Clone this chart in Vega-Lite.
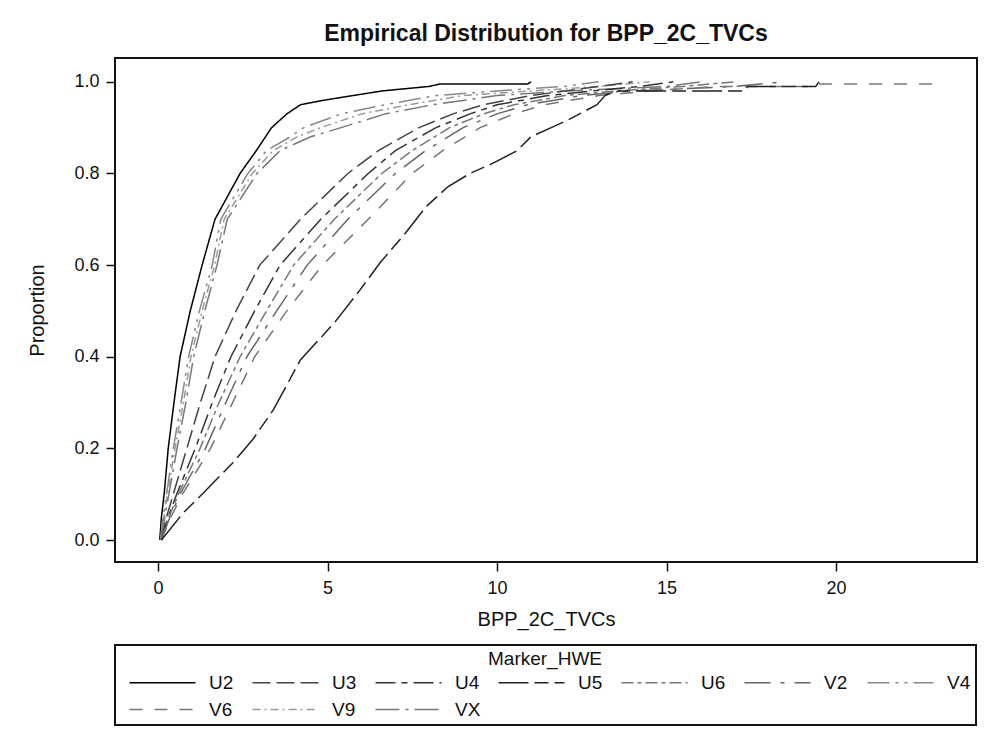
{
  "$schema": "https://vega.github.io/schema/vega-lite/v6.json",
  "autosize": {"type": "none"},
  "width": 862,
  "height": 504,
  "padding": {"left": 115, "top": 58, "right": 7, "bottom": 176},
  "background": "white",
  "title": {"text": "Empirical Distribution for BPP_2C_TVCs", "fontSize": 23, "fontWeight": "bold", "color": "#111", "offset": 12, "anchor": "middle"},
  "data": {"values": [
    {"m":"U2","x":0.05,"y":0},{"m":"U2","x":0.1,"y":0.05},{"m":"U2","x":0.18,"y":0.1},{"m":"U2","x":0.3,"y":0.2},{"m":"U2","x":0.47,"y":0.3},{"m":"U2","x":0.65,"y":0.4},{"m":"U2","x":0.95,"y":0.5},{"m":"U2","x":1.3,"y":0.6},{"m":"U2","x":1.68,"y":0.7},{"m":"U2","x":2.42,"y":0.8},{"m":"U2","x":2.9,"y":0.85},{"m":"U2","x":3.35,"y":0.9},{"m":"U2","x":3.8,"y":0.93},{"m":"U2","x":4.2,"y":0.95},{"m":"U2","x":4.9,"y":0.96},{"m":"U2","x":5.75,"y":0.97},{"m":"U2","x":6.6,"y":0.98},{"m":"U2","x":8.0,"y":0.99},{"m":"U2","x":8.3,"y":0.995},{"m":"U2","x":10.9,"y":0.995},{"m":"U2","x":11.0,"y":1.0},
    {"m":"V4","x":0.07,"y":0},{"m":"V4","x":0.15,"y":0.05},{"m":"V4","x":0.25,"y":0.1},{"m":"V4","x":0.45,"y":0.2},{"m":"V4","x":0.68,"y":0.3},{"m":"V4","x":0.9,"y":0.4},{"m":"V4","x":1.22,"y":0.5},{"m":"V4","x":1.6,"y":0.6},{"m":"V4","x":1.85,"y":0.7},{"m":"V4","x":2.65,"y":0.8},{"m":"V4","x":3.2,"y":0.85},{"m":"V4","x":3.9,"y":0.88},{"m":"V4","x":4.3,"y":0.9},{"m":"V4","x":5.4,"y":0.93},{"m":"V4","x":6.7,"y":0.95},{"m":"V4","x":8.2,"y":0.97},{"m":"V4","x":10.0,"y":0.98},{"m":"V4","x":12.0,"y":0.99},{"m":"V4","x":13.0,"y":1.0},
    {"m":"V9","x":0.08,"y":0},{"m":"V9","x":0.17,"y":0.05},{"m":"V9","x":0.28,"y":0.1},{"m":"V9","x":0.5,"y":0.2},{"m":"V9","x":0.75,"y":0.3},{"m":"V9","x":0.97,"y":0.4},{"m":"V9","x":1.3,"y":0.5},{"m":"V9","x":1.67,"y":0.6},{"m":"V9","x":1.95,"y":0.7},{"m":"V9","x":2.78,"y":0.8},{"m":"V9","x":3.4,"y":0.85},{"m":"V9","x":4.1,"y":0.88},{"m":"V9","x":4.8,"y":0.9},{"m":"V9","x":6.0,"y":0.93},{"m":"V9","x":7.4,"y":0.95},{"m":"V9","x":9.0,"y":0.97},{"m":"V9","x":11.0,"y":0.98},{"m":"V9","x":13.0,"y":0.99},{"m":"V9","x":14.5,"y":1.0},
    {"m":"VX","x":0.08,"y":0},{"m":"VX","x":0.2,"y":0.05},{"m":"VX","x":0.32,"y":0.1},{"m":"VX","x":0.56,"y":0.2},{"m":"VX","x":0.82,"y":0.3},{"m":"VX","x":1.05,"y":0.4},{"m":"VX","x":1.38,"y":0.5},{"m":"VX","x":1.74,"y":0.6},{"m":"VX","x":2.04,"y":0.7},{"m":"VX","x":2.92,"y":0.8},{"m":"VX","x":3.6,"y":0.85},{"m":"VX","x":4.5,"y":0.88},{"m":"VX","x":5.4,"y":0.9},{"m":"VX","x":6.7,"y":0.93},{"m":"VX","x":8.1,"y":0.95},{"m":"VX","x":10.0,"y":0.97},{"m":"VX","x":12.0,"y":0.98},{"m":"VX","x":15.0,"y":0.99},{"m":"VX","x":16.0,"y":1.0},
    {"m":"U3","x":0.1,"y":0},{"m":"U3","x":0.25,"y":0.05},{"m":"U3","x":0.45,"y":0.1},{"m":"U3","x":0.85,"y":0.2},{"m":"U3","x":1.25,"y":0.3},{"m":"U3","x":1.68,"y":0.4},{"m":"U3","x":2.3,"y":0.5},{"m":"U3","x":3.0,"y":0.6},{"m":"U3","x":4.2,"y":0.7},{"m":"U3","x":5.6,"y":0.8},{"m":"U3","x":6.5,"y":0.85},{"m":"U3","x":7.7,"y":0.9},{"m":"U3","x":8.7,"y":0.93},{"m":"U3","x":9.6,"y":0.95},{"m":"U3","x":11.0,"y":0.97},{"m":"U3","x":12.0,"y":0.98},{"m":"U3","x":13.0,"y":0.99},{"m":"U3","x":14.0,"y":1.0},
    {"m":"U4","x":0.1,"y":0},{"m":"U4","x":0.3,"y":0.05},{"m":"U4","x":0.55,"y":0.1},{"m":"U4","x":1.1,"y":0.2},{"m":"U4","x":1.6,"y":0.3},{"m":"U4","x":2.15,"y":0.4},{"m":"U4","x":2.85,"y":0.5},{"m":"U4","x":3.6,"y":0.6},{"m":"U4","x":4.8,"y":0.7},{"m":"U4","x":6.2,"y":0.8},{"m":"U4","x":7.0,"y":0.85},{"m":"U4","x":8.2,"y":0.9},{"m":"U4","x":9.2,"y":0.93},{"m":"U4","x":10.0,"y":0.95},{"m":"U4","x":11.5,"y":0.97},{"m":"U4","x":12.8,"y":0.98},{"m":"U4","x":14.2,"y":0.99},{"m":"U4","x":15.2,"y":1.0},
    {"m":"U6","x":0.1,"y":0},{"m":"U6","x":0.32,"y":0.05},{"m":"U6","x":0.6,"y":0.1},{"m":"U6","x":1.24,"y":0.2},{"m":"U6","x":1.8,"y":0.3},{"m":"U6","x":2.42,"y":0.4},{"m":"U6","x":3.2,"y":0.5},{"m":"U6","x":4.0,"y":0.6},{"m":"U6","x":5.2,"y":0.7},{"m":"U6","x":6.6,"y":0.8},{"m":"U6","x":7.5,"y":0.85},{"m":"U6","x":8.6,"y":0.9},{"m":"U6","x":9.6,"y":0.93},{"m":"U6","x":10.5,"y":0.95},{"m":"U6","x":12.0,"y":0.97},{"m":"U6","x":13.5,"y":0.98},{"m":"U6","x":15.5,"y":0.99},{"m":"U6","x":17.0,"y":1.0},
    {"m":"V2","x":0.1,"y":0},{"m":"V2","x":0.35,"y":0.05},{"m":"V2","x":0.65,"y":0.1},{"m":"V2","x":1.4,"y":0.2},{"m":"V2","x":2.0,"y":0.3},{"m":"V2","x":2.62,"y":0.4},{"m":"V2","x":3.5,"y":0.5},{"m":"V2","x":4.4,"y":0.6},{"m":"V2","x":5.6,"y":0.7},{"m":"V2","x":7.0,"y":0.8},{"m":"V2","x":7.9,"y":0.85},{"m":"V2","x":9.0,"y":0.9},{"m":"V2","x":10.0,"y":0.93},{"m":"V2","x":10.9,"y":0.95},{"m":"V2","x":12.5,"y":0.97},{"m":"V2","x":14.0,"y":0.98},{"m":"V2","x":17.0,"y":0.99},{"m":"V2","x":18.5,"y":1.0},
    {"m":"V6","x":0.1,"y":0},{"m":"V6","x":0.38,"y":0.05},{"m":"V6","x":0.72,"y":0.1},{"m":"V6","x":1.55,"y":0.2},{"m":"V6","x":2.2,"y":0.3},{"m":"V6","x":2.85,"y":0.4},{"m":"V6","x":3.8,"y":0.5},{"m":"V6","x":4.85,"y":0.6},{"m":"V6","x":6.2,"y":0.7},{"m":"V6","x":7.5,"y":0.8},{"m":"V6","x":8.4,"y":0.85},{"m":"V6","x":9.5,"y":0.9},{"m":"V6","x":10.5,"y":0.93},{"m":"V6","x":11.4,"y":0.95},{"m":"V6","x":13.0,"y":0.97},{"m":"V6","x":14.5,"y":0.98},{"m":"V6","x":16.5,"y":0.99},{"m":"V6","x":19.4,"y":0.99},{"m":"V6","x":19.5,"y":0.995},{"m":"V6","x":22.8,"y":0.995},{"m":"V6","x":22.9,"y":1.0},
    {"m":"U5","x":0.1,"y":0},{"m":"U5","x":0.74,"y":0.059},{"m":"U5","x":1.3,"y":0.1},{"m":"U5","x":2.2,"y":0.168},{"m":"U5","x":2.8,"y":0.22},{"m":"U5","x":3.4,"y":0.284},{"m":"U5","x":4.2,"y":0.393},{"m":"U5","x":5.2,"y":0.474},{"m":"U5","x":5.96,"y":0.546},{"m":"U5","x":6.55,"y":0.605},{"m":"U5","x":7.3,"y":0.67},{"m":"U5","x":7.9,"y":0.727},{"m":"U5","x":8.55,"y":0.771},{"m":"U5","x":9.2,"y":0.8},{"m":"U5","x":9.9,"y":0.823},{"m":"U5","x":10.6,"y":0.85},{"m":"U5","x":11.0,"y":0.88},{"m":"U5","x":11.6,"y":0.9},{"m":"U5","x":12.1,"y":0.917},{"m":"U5","x":12.95,"y":0.95},{"m":"U5","x":13.2,"y":0.971},{"m":"U5","x":13.6,"y":0.98},{"m":"U5","x":17.3,"y":0.98},{"m":"U5","x":17.4,"y":0.99},{"m":"U5","x":19.4,"y":0.99},{"m":"U5","x":19.5,"y":1.0}
  ]},
  "mark": {"type": "line", "strokeWidth": 1.5, "interpolate": "linear"},
  "encoding": {
    "x": {"field": "x", "type": "quantitative", "title": "BPP_2C_TVCs",
      "scale": {"domain": [-1.27, 24.16], "nice": false, "zero": false},
      "axis": {"values": [0, 5, 10, 15, 20], "labelPadding": 8, "titlePadding": 12}},
    "y": {"field": "y", "type": "quantitative", "title": "Proportion",
      "scale": {"domain": [-0.048, 1.052], "nice": false, "zero": false},
      "axis": {"values": [0, 0.2, 0.4, 0.6, 0.8, 1.0], "format": ".1f", "labelPadding": 7, "titlePadding": 26}},
    "color": {"field": "m", "type": "nominal",
      "scale": {"domain": ["U2","U3","U4","U5","U6","V2","V4","V6","V9","VX"],
        "range": ["#000000","#444444","#333333","#222222","#777777","#666666","#888888","#777777","#999999","#777777"]},
      "legend": {"title": "Marker_HWE", "orient": "bottom", "direction": "horizontal", "columns": 7, "offset": 16,
        "symbolType": "M0,0H66", "symbolSize": 4, "symbolStrokeWidth": 1.5, "labelOffset": 70,
        "gridAlign": "all", "columnPadding": 8, "rowPadding": 7, "padding": 5,
        "strokeColor": "#111", "titleAnchor": "middle", "titlePadding": 4}},
    "strokeDash": {"field": "m", "type": "nominal",
      "scale": {"domain": ["U2","U3","U4","U5","U6","V2","V4","V6","V9","VX"],
        "range": [[1,0],[18,6],[20,6,6,6],[30,6,14,6],[12,4,4,4],[26,10,4,10],[22,6,3,6,3,6],[13,12],[8,4,2,4],[24,6,3,6]]},
      "legend": {"title": "Marker_HWE"}}
  },
  "config": {
    "font": "Liberation Sans",
    "view": {"stroke": "#111", "strokeWidth": 2},
    "axis": {"grid": false, "domain": false, "tickColor": "#111", "tickWidth": 1.5, "tickSize": 9,
      "labelColor": "#111", "labelFontSize": 18, "titleFontSize": 20, "titleFontWeight": "normal", "titleColor": "#111"},
    "legend": {"labelFontSize": 19, "labelColor": "#111", "titleFontSize": 19, "titleFontWeight": "normal", "titleColor": "#111", "strokeWidth": 2}
  }
}
